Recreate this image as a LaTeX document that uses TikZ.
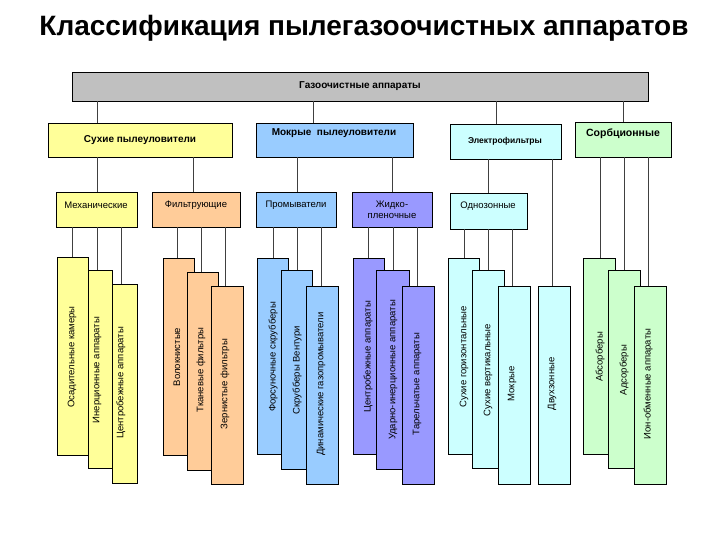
\documentclass[tikz,border=0pt]{standalone}
\usepackage{fontspec}
\setmainfont{Liberation Sans}
\definecolor{cgray}{HTML}{C0C0C0}
\definecolor{cyel}{HTML}{FFFF99}
\definecolor{corg}{HTML}{FFCC99}
\definecolor{cblu}{HTML}{99CCFF}
\definecolor{cpur}{HTML}{9999FF}
\definecolor{ccya}{HTML}{CCFFFF}
\definecolor{cgrn}{HTML}{CCFFCC}
\tikzset{bx/.style={draw=black,line width=0.8pt,inner sep=0pt,outer sep=0pt,rectangle},
 lab/.style={font=\fontsize{9.5}{10}\selectfont,inner sep=0pt},
 blab/.style={font=\bfseries\fontsize{10}{10}\selectfont,inner sep=0pt},
 vlab/.style={font=\fontsize{9.5}{10}\selectfont,inner sep=0pt,rotate=90},
 conn/.style={draw=black!75,line width=0.8pt}}
\newcommand\bx[6]{\node[bx,fill=#6,minimum width={#4-#2},minimum height={#5-#3}] (#1) at ({(#2+#4)/2},{(#3+#5)/2}) {};}
\newcommand\cl[9]{\bx{#1}{#2}{#3}{#4}{#5}{#6}\coordinate (#1-t) at (#7,#3);\node[vlab] (#1-l) at (#7,#9) {#8};}
\begin{document}
\begin{tikzpicture}[x=1pt,y=-1pt]
\useasboundingbox[fill=white] (0,0) rectangle (720,540);
\node[font=\bfseries\fontsize{28}{32}\selectfont] (title) at (364,28) {Классификация пылегазоочистных аппаратов};
% level 1
\bx{top}{72}{72}{648}{101}{cgray}
\node[blab] (top-l) at (360,86) {Газоочистные аппараты};
% level 2
\bx{dry}{48}{123}{232}{157}{cyel}
\node[blab] (dry-l) at (140,140) {Сухие пылеуловители};
\bx{wet}{256}{123}{413}{157}{cblu}
\node[blab] (wet-l) at (334,133) {Мокрые\ \ пылеуловители};
\bx{el}{450}{124}{561}{159}{ccya}
\node[blab,font=\bfseries\fontsize{8.5}{10}\selectfont] (el-l) at (505,141) {Электрофильтры};
\bx{sor}{575}{122}{671}{157}{cgrn}
\node[blab,font=\bfseries\fontsize{10.5}{12}\selectfont] (sor-l) at (623,134) {Сорбционные};
\coordinate (dry-t) at (97,123);\coordinate (wet-t) at (313,123);
\coordinate (el-t) at (496,124);\coordinate (sor-t) at (623,122);
\foreach \c in {dry,wet,el,sor} \draw[conn] (top.south -| \c-t) -- (\c-t);
% level 3
\bx{mech}{56}{192}{137}{227}{cyel}
\node[lab] (mech-l) at (96,205) {Механические};
\bx{filt}{152}{192}{240}{227}{corg}
\node[lab] (filt-l) at (196,205) {Фильтрующие};
\bx{prom}{256}{192}{336}{227}{cblu}
\node[lab] (prom-l) at (296,205) {Промыватели};
\bx{zhid}{352}{192}{432}{227}{cpur}
\node[lab,align=center] (zhid-l) at (392,210) {Жидко-\\[1pt]пленочные};
\bx{odn}{450}{193}{527}{229}{ccya}
\node[lab] (odn-l) at (488,206) {Однозонные};
\coordinate (mech-t) at (97,192);\coordinate (filt-t) at (193,192);
\coordinate (prom-t) at (297,192);\coordinate (zhid-t) at (392,192);
\coordinate (odn-t) at (488,193);
\draw[conn] (dry.south -| mech-t) -- (mech-t);
\draw[conn] (dry.south -| filt-t) -- (filt-t);
\draw[conn] (wet.south -| prom-t) -- (prom-t);
\draw[conn] (wet.south -| zhid-t) -- (zhid-t);
\draw[conn] (el.south -| odn-t) -- (odn-t);
% level 4 columns
\cl{m1}{57}{257}{88}{455}{cyel}{72}{Осадительные камеры}{357}
\cl{m2}{88}{270}{112}{468}{cyel}{97}{Инерционные аппараты}{370}
\cl{m3}{112}{284}{137}{483}{cyel}{121}{Центробежные аппараты}{383}
\cl{f1}{163}{258}{194}{455}{corg}{177}{Волокнистые}{357}
\cl{f2}{187}{272}{218}{470}{corg}{201}{Тканевые фильтры}{370}
\cl{f3}{211}{286}{243}{484}{corg}{225}{Зернистые фильтры}{384}
\cl{p1}{257}{258}{288}{454}{cblu}{273}{Форсуночные скрубберы}{357}
\cl{p2}{281}{270}{312}{469}{cblu}{297}{Скрубберы Вентури}{370}
\cl{p3}{306}{286}{338}{484}{cblu}{321}{Динамические газопромыватели}{384}
\cl{z1}{353}{258}{384}{454}{cpur}{368}{Центробежные аппараты}{357}
\cl{z2}{376}{270}{409}{469}{cpur}{393}{Ударно-инерционные аппараты}{370}
\cl{z3}{402}{286}{434}{484}{cpur}{417}{Тарельчатые аппараты}{384}
\cl{o1}{448}{258}{479}{454}{ccya}{464}{Сухие горизонтальные}{357}
\cl{o2}{472}{270}{504}{468}{ccya}{488}{Сухие вертикальные}{370}
\cl{o3}{498}{286}{530}{484}{ccya}{512}{Мокрые}{384}
\cl{dv}{538}{286}{570}{484}{ccya}{552}{Двухзонные}{384}
\cl{s1}{583}{258}{615}{454}{cgrn}{600}{Абсорберы}{357}
\cl{s2}{608}{270}{640}{468}{cgrn}{624}{Адсорберы}{370}
\cl{s3}{634}{286}{666}{484}{cgrn}{648}{Ион-обменные аппараты}{384}
\foreach \c in {m1,m2,m3} \draw[conn] (mech.south -| \c-t) -- (\c-t);
\foreach \c in {f1,f2,f3} \draw[conn] (filt.south -| \c-t) -- (\c-t);
\foreach \c in {p1,p2,p3} \draw[conn] (prom.south -| \c-t) -- (\c-t);
\foreach \c in {z1,z2,z3} \draw[conn] (zhid.south -| \c-t) -- (\c-t);
\foreach \c in {o1,o2,o3} \draw[conn] (odn.south -| \c-t) -- (\c-t);
\draw[conn] (el.south -| dv-t) -- (dv-t);
\foreach \c in {s1,s2,s3} \draw[conn] (sor.south -| \c-t) -- (\c-t);
\end{tikzpicture}
\end{document}
